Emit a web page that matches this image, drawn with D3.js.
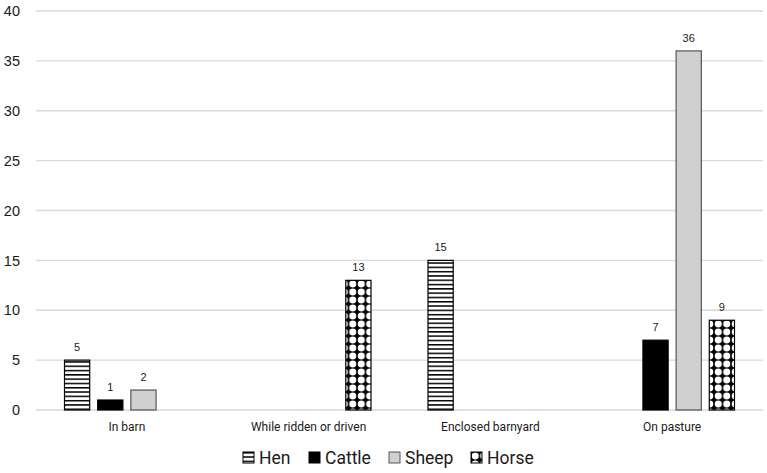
<!DOCTYPE html>
<html>
<head>
<meta charset="utf-8">
<script src="https://cdn.jsdelivr.net/npm/d3@7"></script>
<style>
  body { margin: 0; background: #fff; }
  svg { display: block; }
</style>
</head>
<body>
<svg id="chart" width="767" height="473"></svg>
<script>
const categories = ["In barn", "While ridden or driven", "Enclosed barnyard", "On pasture"]
const series = ["Hen", "Cattle", "Sheep", "Horse"]
const hen = [5, 0, 15, 0]
const cattle = [1, 0, 0, 7]
const sheep = [2, 0, 0, 36]
const horse = [0, 13, 0, 9]
const yTicks = [0, 5, 10, 15, 20, 25, 30, 35, 40]

const values = { Hen: hen, Cattle: cattle, Sheep: sheep, Horse: horse }
const svg = d3.select("#chart")
const margin = { top: 11, right: 4, bottom: 63, left: 36 }
const width = 767, height = 473

const defs = svg.append("defs")
// horizontal stripes for hen
const pStripe = defs.append("pattern").attr("id", "stripes").attr("patternUnits", "userSpaceOnUse")
  .attr("width", 8).attr("height", 4.3)
pStripe.append("rect").attr("width", 8).attr("height", 4.3).attr("fill", "#fff")
pStripe.append("rect").attr("y", 0).attr("width", 8).attr("height", 1.5).attr("fill", "#000")
// checkers for horse
const pCheck = defs.append("pattern").attr("id", "checks").attr("patternUnits", "userSpaceOnUse")
  .attr("width", 8.5).attr("height", 8).attr("x", 0).attr("y", 0)
pCheck.append("rect").attr("width", 8.5).attr("height", 8).attr("fill", "#000")
pCheck.append("ellipse").attr("cx", 4.25).attr("cy", 4).attr("rx", 3.55).attr("ry", 3.4).attr("fill", "#fff")

const fills = { Hen: "url(#stripes)", Cattle: "#000", Sheep: "#d0d0d0", Horse: "url(#checks)" }
const strokes = { Hen: "#000", Cattle: "#000", Sheep: "#555", Horse: "#000" }

const x0 = d3.scaleBand().domain(categories).range([margin.left, width - margin.right]).paddingInner(0).paddingOuter(0)
const x1 = d3.scaleBand().domain(series).range([28, x0.bandwidth() - 28]).paddingInner(0.21).paddingOuter(0)
const y = d3.scaleLinear().domain([0, 40]).range([height - margin.bottom, margin.top])

// gridlines
svg.append("g").selectAll("line").data(yTicks).join("line")
  .attr("x1", margin.left).attr("x2", width - margin.right)
  .attr("y1", d => y(d)).attr("y2", d => y(d))
  .attr("stroke", "#d9d9d9").attr("stroke-width", 1.3)

// y tick labels
svg.append("g").selectAll("text").data(yTicks).join("text")
  .attr("x", 20).attr("y", d => y(d)).attr("dy", "0.36em")
  .attr("text-anchor", "end").attr("font-family", "Liberation Sans, Arial, sans-serif")
  .attr("font-size", 14.5).attr("fill", "#1a1a1a").text(d => d)

// bars
const bars = []
categories.forEach((c, i) => series.forEach(s => { if (values[s][i] > 0) bars.push({ c, s, v: values[s][i] }) }))

svg.append("g").selectAll("rect").data(bars).join("rect")
  .attr("x", d => x0(d.c) + x1(d.s) + 0.5)
  .attr("y", d => y(d.v))
  .attr("width", x1.bandwidth() - 1)
  .attr("height", d => y(0) - y(d.v))
  .attr("fill", d => fills[d.s]).attr("stroke", d => strokes[d.s]).attr("stroke-width", 1.2)

// data labels
svg.append("g").selectAll("text").data(bars).join("text")
  .attr("x", d => x0(d.c) + x1(d.s) + x1.bandwidth() / 2)
  .attr("y", d => y(d.v) - 9)
  .attr("text-anchor", "middle").attr("font-family", "Liberation Sans, Arial, sans-serif")
  .attr("font-size", 11).attr("fill", "#1a1a1a").text(d => d.v)

// category labels
svg.append("g").selectAll("text").data(categories).join("text")
  .attr("x", d => x0(d) + x0.bandwidth() / 2).attr("y", 431)
  .attr("text-anchor", "middle").attr("font-family", "Roboto, sans-serif")
  .attr("font-size", 12).attr("fill", "#1a1a1a").text(d => d)

// legend
const legendX = [243, 309, 389, 471]
const lg = svg.append("g").selectAll("g").data(series).join("g")
  .attr("transform", (d, i) => "translate(" + legendX[i] + ",452)")
lg.append("rect").attr("width", 11).attr("height", 11)
  .attr("fill", d => fills[d]).attr("stroke", d => strokes[d]).attr("stroke-width", 1)
lg.append("text").attr("x", 16).attr("y", 5.5).attr("dy", "0.36em")
  .attr("font-family", "Roboto, sans-serif").attr("font-size", 17.5).attr("fill", "#1a1a1a").text(d => d)
</script>
</body>
</html>
